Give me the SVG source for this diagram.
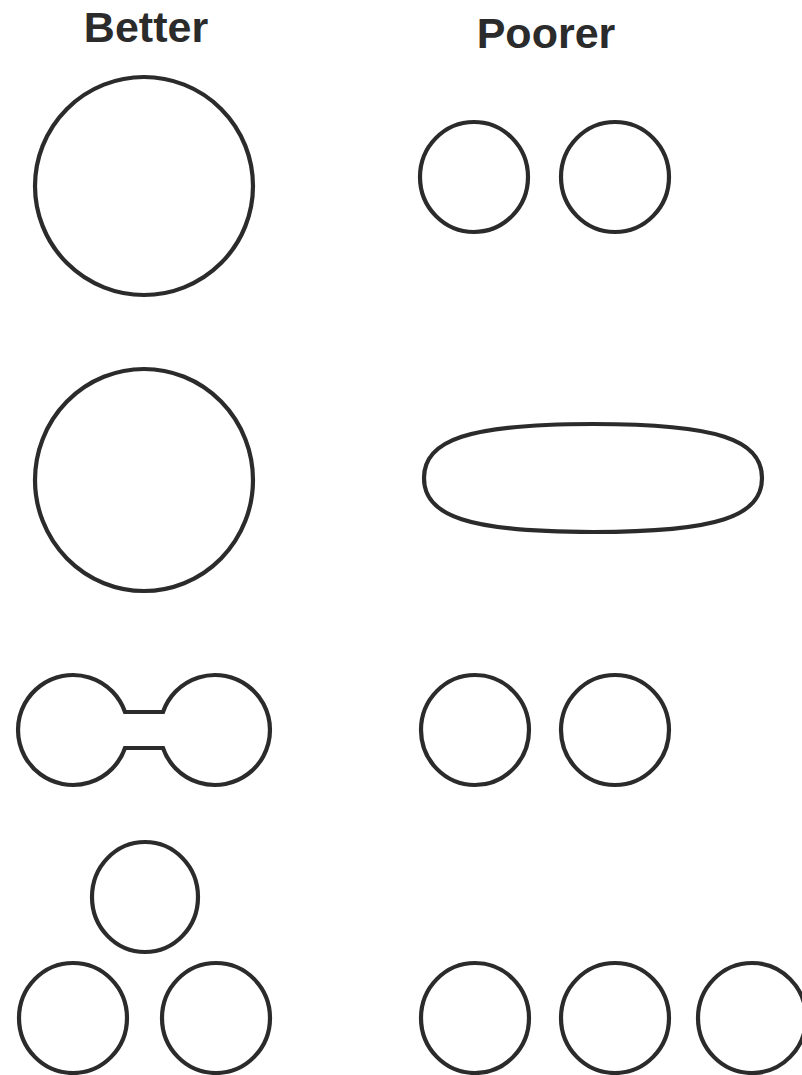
<svg xmlns="http://www.w3.org/2000/svg" width="802" height="1075" viewBox="0 0 802 1075">
<style>
.s{fill:none;stroke:#2b2b2b;stroke-width:4.2}
.t{font-family:"Liberation Sans",Arial,sans-serif;font-weight:bold;font-size:43px;fill:#2b2b2b;text-anchor:middle}
</style>
<rect width="802" height="1075" fill="#fff"/>
<g id="labels">
<text class="t" x="146" y="42">Better</text>
<text class="t" x="546" y="48">Poorer</text>
</g>
<g id="better1"><ellipse class="s" cx="144" cy="186" rx="109" ry="109"/></g>
<g id="poorer1">
<ellipse class="s" cx="474" cy="177" rx="54" ry="55"/>
<ellipse class="s" cx="615" cy="177" rx="54" ry="55"/>
</g>
<g id="better2"><ellipse class="s" cx="144" cy="480" rx="109" ry="111"/></g>
<g id="poorer2"><path class="s" d="M593,424 C718,424 762,440 762,478 C762,516 718,532 593,532 C468,532 424,516 424,478 C424,440 468,424 593,424 Z"/></g>
<g id="better3"><path class="s" d="M125,712 A55,55 0 1,0 125,748 L163,748 A55,55 0 1,0 163,712 Z"/></g>
<g id="poorer3">
<ellipse class="s" cx="475" cy="730" rx="54" ry="55"/>
<ellipse class="s" cx="615" cy="730" rx="54" ry="55"/>
</g>
<g id="better4">
<ellipse class="s" cx="145" cy="897" rx="53" ry="55"/>
<ellipse class="s" cx="73" cy="1018" rx="54" ry="55"/>
<ellipse class="s" cx="216" cy="1018" rx="54" ry="55"/>
</g>
<g id="poorer4">
<ellipse class="s" cx="475" cy="1018" rx="54" ry="55"/>
<ellipse class="s" cx="615" cy="1018" rx="54" ry="55"/>
<ellipse class="s" cx="752" cy="1018" rx="54" ry="55"/>
</g>
</svg>
